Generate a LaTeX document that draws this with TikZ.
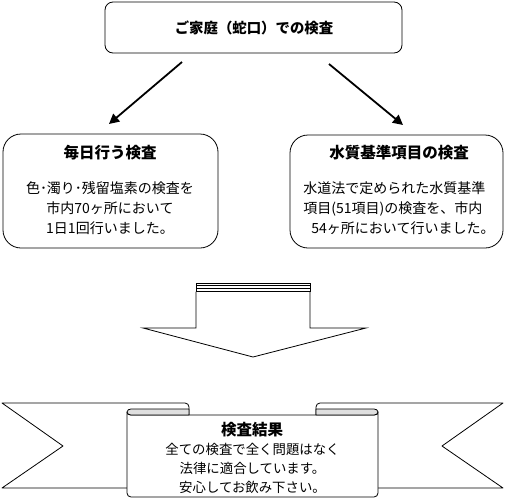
\documentclass[tikz,border=0pt]{standalone}
\usepackage{fontspec}
\setmainfont{Noto Sans CJK JP}
\usetikzlibrary{arrows.meta}
\tikzset{
  box/.style={draw, line width=0.8pt},
  titletext/.style={font=\bfseries\fontsize{15.5}{18}\selectfont, inner sep=0pt},
  bodytext/.style={font=\fontsize{14}{20}\selectfont, inner sep=0pt},
  ribtext/.style={font=\fontsize{13.4}{19}\selectfont, inner sep=0pt, align=center},
  arr/.style={line width=1.8pt, -{Triangle[length=10pt,width=10pt]}},
  rib/.style={draw, line width=0.8pt, line join=round},
}
\begin{document}
\begin{tikzpicture}[x=1pt,y=-1pt]
\useasboundingbox (0,0) rectangle (509,501);
% top box
\node[box, rounded corners=8pt, minimum width=297pt, minimum height=51pt] (top) at (253.5,27.5) {};
\node[titletext, font=\bfseries\fontsize{14.4}{17}\selectfont] (toptxt) at (254,28) {ご家庭（蛇口）での検査};
% arrows
\coordinate (a1s) at (182,62);
\coordinate (a1e) at (109,124);
\coordinate (a2s) at (329,64);
\coordinate (a2e) at (403,125);
\draw[arr] (a1s) -- (a1e);
\draw[arr] (a2s) -- (a2e);
% left box
\node[box, rounded corners=18pt, minimum width=215pt, minimum height=114pt] (lbox) at (110.5,191) {};
\node[titletext] (ltitle) at (110,153) {毎日行う検査};
\node[bodytext, align=center] (lbody) at (110,208) {色･濁り･残留塩素の検査を\\市内70ヶ所において\\1日1回行いました。};
% right box
\node[box, rounded corners=18pt, minimum width=213pt, minimum height=113pt] (rbox) at (396.5,191.5) {};
\node[titletext] (rtitle) at (399,153) {水質基準項目の検査};
\node[bodytext, align=left] (rbody) at (399,208) {水道法で定められた水質基準\\項目(51項目)の検査を、市内\\\hspace*{8pt}54ヶ所において行いました。};
% big arrow
\draw[box, fill=white, line join=miter] (196,291.5) -- (196,328) -- (143,328) -- (253,357) -- (366,328) -- (310,328) -- (310,291.5);
\draw[box] (196,283) rectangle (310,291.5);
\draw[box] (196,285.5) -- (310,285.5);
\draw[box] (196,288) -- (310,288);
% ribbon back tails
\draw[rib, fill=white] (130,488) -- (2,488) -- (63,446) -- (2,403) -- (185,403) to[out=0,in=90] (189,407) -- (189,415);
\draw[rib, fill=white] (375,488) -- (503,488) -- (442,446) -- (503,403) -- (320,403) to[out=180,in=90] (316,407) -- (316,415);
% front panel
\draw[rib, fill=white] (127,412) -- (127,493) to[out=-90,in=180] (131,497) -- (374,497) to[out=0,in=-90] (378,493) -- (378,412) to[out=-90,in=0] (374,415) -- (131,415) to[out=180,in=-90] (127,412);
% folds
\draw[rib, fill=gray!25] (189,409) -- (131,409) to[out=180,in=90] (127,412) to[out=-90,in=180] (131,415) -- (189,415) -- cycle;
\draw[rib, fill=gray!25] (316,409) -- (374,409) to[out=0,in=90] (378,412) to[out=-90,in=0] (374,415) -- (316,415) -- cycle;
% ribbon text
\node[titletext] (rtit) at (252,429.5) {検査結果};
\node[ribtext] (rbod) at (252.5,468) {全ての検査で全く問題はなく\\法律に適合しています。\\安心してお飲み下さい。};
\end{tikzpicture}
\end{document}
